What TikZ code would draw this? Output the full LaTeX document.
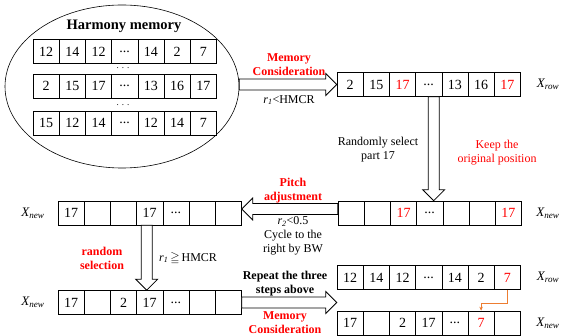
\documentclass[tikz,border=0pt]{standalone}
\usepackage{fontspec}
\setmainfont{Liberation Serif}
\usepackage{amssymb}
\usetikzlibrary{calc,shapes.geometric,arrows.meta}

\definecolor{linkorange}{RGB}{237,125,49}
\newcommand{\redtxt}[1]{\textcolor{red}{#1}}
\newcommand{\celldots}{...}
% one row of seven cells: name, left x, centre y, entries
\newcommand{\cellrow}[4]{%
  \foreach \v [count=\i] in {#4}
    \node[cell] (#1-\i) at ({#2+(\i-0.5)*26.2},#3) {\v};}

\begin{document}
\begin{tikzpicture}[x=1pt,y=-1pt,
    cell/.style={draw, line width=0.6pt, fill=white, minimum width=26.2pt,
      minimum height=24pt, inner sep=0pt, font=\fontsize{14}{14}\selectfont},
    lab/.style={align=center, inner sep=0pt, font=\fontsize{12}{14}\selectfont},
    redlab/.style={lab, text=red, font=\fontsize{12}{14}\selectfont\bfseries},
    blklab/.style={lab, font=\fontsize{12}{14}\selectfont\bfseries},
    xlab/.style={inner sep=0pt, font=\fontsize{13}{13}\selectfont\itshape},
    bigarrow/.style={to path={
      let \p1=(\tikztostart), \p2=(\tikztotarget),
          \n1={atan2(\y2-\y1,\x2-\x1)}, \n2={veclen(\x2-\x1,\y2-\y1)}
      in ($(\p1)+(\n1+90:5.5pt)$)
      -- ($(\p1)+(\n1:\n2-11pt)+(\n1+90:5.5pt)$)
      -- ($(\p1)+(\n1:\n2-11pt)+(\n1+90:11pt)$)
      -- (\p2)
      -- ($(\p1)+(\n1:\n2-11pt)+(\n1-90:11pt)$)
      -- ($(\p1)+(\n1:\n2-11pt)+(\n1-90:5.5pt)$)
      -- ($(\p1)+(\n1-90:5.5pt)$) -- cycle}},
    block/.style={draw, line width=0.8pt, fill=white}]
  \useasboundingbox (0,0) rectangle (561,336);

  % harmony memory
  \node[ellipse, draw, line width=0.6pt, minimum width=234pt,
    minimum height=163pt, inner sep=0pt] (hm) at (122,86.5) {};
  \node[blklab, font=\fontsize{14.5}{14.5}\selectfont\bfseries] (hm_cap) at (124,26) {Harmony memory};
  \cellrow{hmA}{33}{51.5}{12,14,12,\celldots,14,2,7}
  \node[font=\fontsize{9}{9}\selectfont] (hm_dots1) at (123,68) {.\,\,.\,\,.};
  \cellrow{hmB}{33}{86}{2,15,17,\celldots,13,16,17}
  \node[font=\fontsize{9}{9}\selectfont] (hm_dots2) at (123,105) {.\,\,.\,\,.};
  \cellrow{hmC}{33}{123}{15,12,14,\celldots,12,14,7}

  % rows
  \cellrow{row}{337}{84.5}{2,15,\redtxt{17},\celldots,13,16,\redtxt{17}}
  \cellrow{keep}{338}{213}{{},{},\redtxt{17},\celldots,{},{},\redtxt{17}}
  \cellrow{pitch}{58}{213}{17,{},{},17,\celldots,{},{}}
  \cellrow{rsel}{58}{302.5}{17,{},2,17,\celldots,{},{}}
  \cellrow{next}{337}{277.5}{12,14,12,\celldots,14,2,\redtxt{7}}
  \cellrow{new}{337}{323}{17,{},2,17,\celldots,\redtxt{7},{}}

  \node[xlab] (row_x) at (548,84.5) {X\textsubscript{row}};
  \node[xlab] (keep_x) at (548,213) {X\textsubscript{new}};
  \node[xlab] (pitch_x) at (33,213) {X\textsubscript{new}};
  \node[xlab] (rsel_x) at (33,302.5) {X\textsubscript{new}};
  \node[xlab] (next_x) at (548,277.5) {X\textsubscript{row}};
  \node[xlab] (new_x) at (548,323) {X\textsubscript{new}};

  % block arrows
  \draw[block] (hm.east |- row-1.west) to[bigarrow] (row-1.west);
  \coordinate (down1) at ($(row-4.south)+(5pt,0)$);
  \draw[block] (down1) to[bigarrow] (down1 |- keep-4.north);
  \coordinate (left1) at ($(keep-1.west)+(0,4pt)$);
  \draw[block] (left1) to[bigarrow] (left1 -| pitch-7.east);
  \coordinate (down2) at ($(pitch-4.south)+(-3pt,0)$);
  \draw[block] (down2) to[bigarrow] (down2 |- rsel-4.north);
  \draw[block] (rsel-7.east) to[bigarrow] (rsel-7.east -| new-1.west);

  % orange link
  \draw[linkorange, line width=0.7pt, -{Stealth[length=4pt,width=3.5pt]}]
    (next-7.south) |- ($(new-6.north)+(0,7pt)$) -- (new-6.north);

  % labels
  \node[redlab] (mc1) at (289,64.5) {Memory\\Consideration};
  \node[lab] (c1) at (289,100) {\textit{r}\textsubscript{\textit{1}}<HMCR};
  \node[lab] (sel) at (378,150) {Randomly select\\part 17};
  \node[lab, text=red] (keep_lab) at (497,152.5) {Keep the\\original position};
  \node[redlab] (pa) at (293,191) {Pitch\\adjustment};
  \node[lab] (c2) at (293,236) {\textit{r}\textsubscript{\textit{2}}<0.5\\Cycle to the\\right by BW};
  \node[redlab] (rs) at (102,258) {random\\selection};
  \node[lab] (c3) at (188,258) {\textit{r}\textsubscript{\textit{1}}\,$\geqq$\,HMCR};
  \node[blklab] (rep) at (285,283.5) {Repeat the three\\steps above};
  \node[redlab] (mc2) at (285,323) {Memory\\Consideration};
\end{tikzpicture}
\end{document}
